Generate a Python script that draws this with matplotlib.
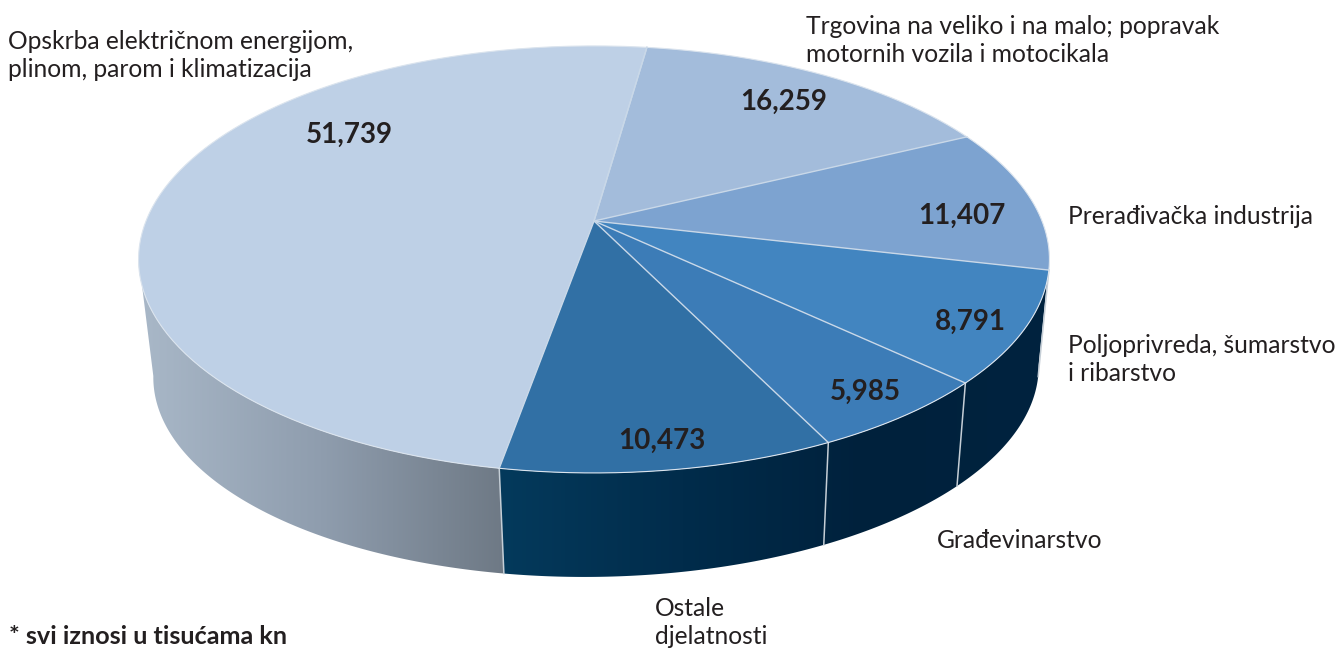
import numpy as np
import matplotlib
matplotlib.use("Agg")
import matplotlib.pyplot as plt
from matplotlib.colors import LinearSegmentedColormap
from matplotlib.patches import Polygon

# clockwise from the top of the pie
categories = ["Trgovina na veliko i na malo; popravak\nmotornih vozila i motocikala",
              "Prerađivačka industrija",
              "Poljoprivreda, šumarstvo\ni ribarstvo",
              "Građevinarstvo",
              "Ostale\ndjelatnosti",
              "Opskrba električnom energijom,\nplinom, parom i klimatizacija"]
values = [16259, 11407, 8791, 5985, 10473, 51739]
note = "* svi iznosi u tisućama kn"

colors = ["#a3bcdb", "#7da3d0", "#4285c0", "#3c7cb7", "#3170a5", "#bed0e6"]
text_color = "#231f20"
plt.rcParams["font.family"] = ["Lato", "DejaVu Sans"]

value_pos = [(784, 102), (962, 216), (970, 322), (865, 392), (662, 441), (349, 135)]
label_pos = [(806, 15), (1068, 205), (1068, 334), (937, 529), (655, 597), (8, 30)]

# pie geometry in pixels, the top is drawn in perspective
START = 8.0
CX, CY = 594, 221
A, B, K = 448.0, 206.6, 0.18
WALL_DX, WALL_CY = 2, 335
WALL_SX, WALL_SY, WALL_SHEAR = 0.972, 0.96, 0.012


def rim(deg):
    t = np.radians(deg)
    u, v = np.sin(t), np.cos(t)
    d = 1 + K * v
    return CX + A * u / d, CY - B * v / d


def rim_bottom(deg):
    x, y = rim(deg)
    y = WALL_CY + WALL_SY * (y - CY) - WALL_SHEAR * (x - CX)
    x = CX + WALL_DX + WALL_SX * (x - CX)
    return x, y


def wall(ax, a0, a1, stops, x0, x1):
    t = np.linspace(a0, a1, 200)
    xt, yt = rim(t)
    xb, yb = rim_bottom(t)
    pts = np.column_stack([np.r_[xt, xb[::-1]], np.r_[yt, yb[::-1]]])
    poly = Polygon(pts, closed=True, fc="none", ec="none")
    ax.add_patch(poly)
    cmap = LinearSegmentedColormap.from_list("w", stops)
    im = ax.imshow(np.linspace(0, 1, 256)[None, :], cmap=cmap, aspect="auto",
                   extent=(x0, x1, 648, 0), zorder=1)
    im.set_clip_path(poly)


fig = plt.figure(figsize=(13.36, 6.48), dpi=100)
ax = fig.add_axes([0, 0, 1, 1])

edges = START + np.r_[0, np.cumsum(values)] / sum(values) * 360
front_split = edges[5]

# side wall
wall(ax, front_split, 260, ["#a9b8c8", "#8f9dae", "#6e7985"], 138, 505)
wall(ax, 100, front_split, ["#043a5c", "#012c4b", "#00213c", "#00233f"], 499, 1049)

for e in edges[2:6]:
    xt, yt = rim(e)
    xb, yb = rim_bottom(e)
    ax.plot([xt, xb], [yt, yb], color="#c5ced6", lw=1.1, zorder=2)

# top face
for i, v in enumerate(values):
    t = np.linspace(edges[i], edges[i + 1], 200)
    x, y = rim(t)
    ax.fill(np.r_[CX, x], np.r_[CY, y], color=colors[i], lw=0, zorder=3)
    ax.plot(np.r_[CX, x[0]], np.r_[CY, y[0]], color="#c9d8e8", lw=1.0, zorder=4)
    ax.plot(x, y, color="#dbe4ee", lw=0.8, zorder=4)
x, y = rim(edges[0])
ax.plot([CX, x], [CY, y], color="#c9d8e8", lw=1.0, zorder=4)

for v, (x, y) in zip(values, value_pos):
    ax.text(x, y, f"{v:,}", fontsize=20, fontweight="bold", color=text_color,
            ha="center", va="center", zorder=5)
for c, (x, y) in zip(categories, label_pos):
    ax.text(x, y, c, fontsize=17.7, color=text_color, ha="left", va="top",
            linespacing=1.28, zorder=5)
ax.text(9, 636, note, fontsize=18.2, fontweight="bold", color=text_color,
        ha="left", va="center")

ax.set_xlim(0, 1336)
ax.set_ylim(648, 0)
ax.axis("off")
fig.savefig("out.png", dpi=100)
